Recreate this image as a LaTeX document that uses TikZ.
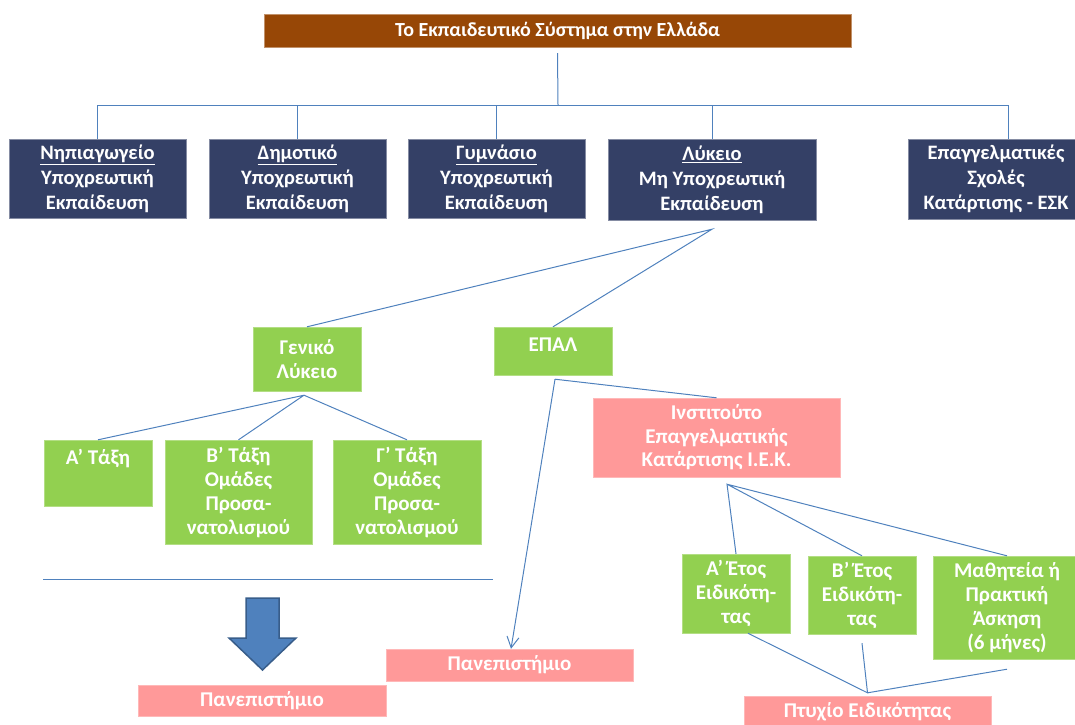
\documentclass[tikz,border=0pt]{standalone}
\usepackage{fontspec}
\setmainfont{Carlito}
\usetikzlibrary{arrows.meta}
\definecolor{navybox}{HTML}{344066}
\definecolor{titlebrown}{HTML}{974706}
\definecolor{leafgreen}{HTML}{92D050}
\definecolor{iekpink}{HTML}{FF9999}
\definecolor{linkblue}{HTML}{4F81BD}
\definecolor{arrowedge}{HTML}{385D8A}
\tikzset{
    size/.style 2 args={minimum width=#1, minimum height=#2},
    box/.style={rectangle, inner sep=0pt, align=center, text=white},
    tbox/.style={box, fill=titlebrown, draw=titlebrown!60!white, font=\bfseries\fontsize{20}{24}\selectfont},
    nbox/.style={box, fill=navybox, draw=navybox!60!white, font=\bfseries\fontsize{20.5}{25}\selectfont},
    gbox/.style={box, fill=leafgreen, draw=leafgreen!70!white, font=\bfseries\fontsize{21}{24}\selectfont},
    pbox/.style={box, fill=iekpink, draw=iekpink!70!white, font=\bfseries\fontsize{21}{23.5}\selectfont},
    conn/.style={draw=linkblue, line width=1pt}
}

\begin{document}
\begin{tikzpicture}[x=1pt, y=-1pt]
    \useasboundingbox (0,0) rectangle (1075,724);
    \clip (0,0) rectangle (1075,724);

    % Nodes
    \node[tbox, size={587}{33}] (title) at (557.5,30.5) {Το Εκπαιδευτικό Σύστημα στην Ελλάδα};
    \node[nbox, size={177}{79}] (nipi) at (97.5,178.5) {\underline{Νηπιαγωγείο}\\Υποχρεωτική\\Εκπαίδευση};
    \node[nbox, size={177}{79}] (dimo) at (297.5,178.5) {\underline{Δημοτικό}\\Υποχρεωτική\\Εκπαίδευση};
    \node[nbox, size={177}{79}] (gymn) at (496.5,178.5) {\underline{Γυμνάσιο}\\Υποχρεωτική\\Εκπαίδευση};
    \node[nbox, size={208}{81}] (lyk) at (712,179.5) {\underline{Λύκειο}\\Μη Υποχρεωτική\\Εκπαίδευση};
    \node[nbox, size={176}{80}] (esk) at (996,179) {Επαγγελματικές\\Σχολές\\Κατάρτισης - ΕΣΚ};

    \node[gbox, size={108}{64}] (gen) at (307,359) {Γενικό\\Λύκειο};
    \node[gbox, size={118}{48}, text height=14pt, text depth=13pt] (epal) at (553,351) {ΕΠΑΛ};
    \node[gbox, size={108}{66}, text height=14pt, text depth=31pt] (ataxi) at (98,473) {Α’ Τάξη};
    \node[gbox, size={147}{104}] (btaxi) at (238.5,492) {Β’ Τάξη\\Ομάδες\\Προσα-\\νατολισμού};
    \node[gbox, size={148}{104}] (ctaxi) at (407,492) {Γ’ Τάξη\\Ομάδες\\Προσα-\\νατολισμού};

    \node[pbox, size={247}{79}] (iek) at (716.5,437.5) {Ινστιτούτο\\Επαγγελματικής\\Κατάρτισης Ι.Ε.Κ.};
    \node[gbox, size={108}{79}] (aetos) at (736,593.5) {Α’ Έτος\\Ειδικότη-\\τας};
    \node[gbox, size={108}{78}] (betos) at (862,595) {Β’ Έτος\\Ειδικότη-\\τας};
    \node[gbox, size={148}{103}] (math) at (1007,607.5) {Μαθητεία ή\\Πρακτική\\Άσκηση\\(6 μήνες)};

    \node[pbox, size={248}{31}] (uni1) at (262,700.5) {Πανεπιστήμιο};
    \node[pbox, size={247}{32}] (uni2) at (509.5,665) {Πανεπιστήμιο};
    \node[pbox, size={247}{32}] (ptyx) at (867.5,712) {Πτυχίο Ειδικότητας};

    % Forks
    \coordinate (bus) at (558,105);
    \coordinate (eskin) at ([xshift=12pt]esk.north);
    \coordinate (lykfork) at ([yshift=-9pt]lyk.south);
    \coordinate (genfork) at ([shift={(-3pt,-4pt)}]gen.south);
    \coordinate (epalfork) at ([shift={(2pt,-4pt)}]epal.south);
    \coordinate (iekfork) at ([shift={(10.5pt,-7pt)}]iek.south);
    \coordinate (ptyfork) at ([yshift=3pt]ptyx.north);

    % Connectors
    \draw[conn] ([yshift=-6pt]title.south) -- (bus);
    \draw[conn] (nipi.north) -- (nipi.north |- bus) -- (eskin |- bus) -- (eskin);
    \foreach \n in {dimo,gymn,lyk}
        \draw[conn] (\n.north) -- (\n.north |- bus);
    \draw[conn] (gen.north) -- (lykfork) -- (epal.north);
    \draw[conn] (ataxi.north) -- (genfork) -- (ctaxi.north) (genfork) -- (btaxi.north);
    \draw[conn] (epalfork) -- (iek.north);
    \draw[conn, -{Straight Barb[length=11pt, width=12pt]}] (epalfork) -- ([xshift=1.5pt]uni2.north);
    \draw[conn] (aetos.north) -- (iekfork) -- (betos.north) (iekfork) -- (math.north);
    \draw[conn] ([xshift=12pt]aetos.south) -- (ptyfork) -- ([yshift=-9pt]betos.south)
        (ptyfork) -- ([yshift=-10pt]math.south);

    % Separator and big arrow
    \draw[conn] (43,579) -- (493,579);
    \filldraw[fill=linkblue, draw=arrowedge, line width=1.5pt]
        (246,598) -- (279,598) -- (279,638) -- (296,638) -- (262.5,670)
        -- (229,638) -- (246,638) -- cycle;
\end{tikzpicture}
\end{document}
